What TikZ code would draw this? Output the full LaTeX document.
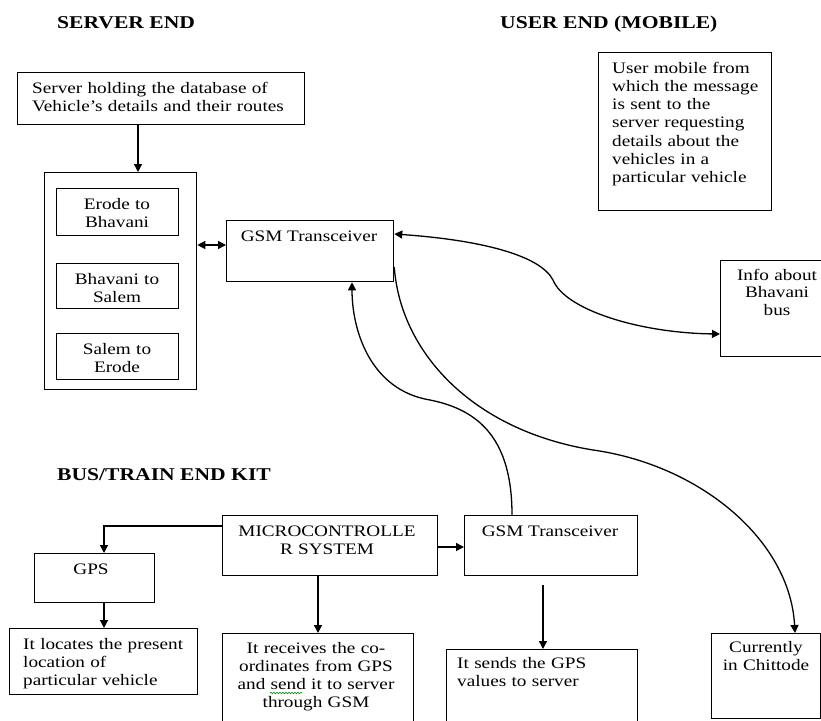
\documentclass[tikz,border=0pt]{standalone}
\usepackage{fontspec}
\setmainfont{Liberation Serif}[FakeStretch=1.2]
\usetikzlibrary{arrows.meta,decorations.pathmorphing}

\begin{document}
\begin{tikzpicture}[x=1pt,y=-1pt,
  box/.style={draw, line width=1.3pt, inner sep=0pt, anchor=north west},
  txt/.style={inner sep=0pt, font=\fontsize{16}{18}\selectfont},
  ttl/.style={inner sep=0pt, font=\fontsize{18}{22}\selectfont\bfseries, anchor=base west},
  arr/.style={line width=1.3pt, -{Triangle[length=8pt,width=8pt]}},
  darr/.style={line width=1.3pt, {Triangle[length=8pt,width=8pt]}-{Triangle[length=8pt,width=8pt]}},
  link/.style={line width=1.3pt}
]
\clip (0,0) rectangle (821,720);

% titles
\node[ttl] (tserverend) at (57,28) {SERVER END};
\node[ttl] (tuserend) at (500,28) {USER END (MOBILE)};
\node[ttl] (tbusend) at (57,480) {BUS/TRAIN END KIT};

% server end
\node[box, minimum width=287pt, minimum height=52pt] (server) at (17,72) {};
\node[txt, anchor=base west, text width=270pt, align=left] (tserver) at (32,93)
  {Server holding the database of\\Vehicle’s details and their routes};
\node[box, minimum width=152pt, minimum height=217pt] (cont) at (44,172) {};
\node[box, minimum width=122pt, minimum height=47pt] (r1) at (56,188) {};
\node[box, minimum width=122pt, minimum height=45pt] (r2) at (56,263) {};
\node[box, minimum width=122pt, minimum height=46pt] (r3) at (56,333) {};
\node[txt, anchor=base, text width=118pt, align=center] (tr1) at (117,209) {Erode to\\Bhavani};
\node[txt, anchor=base, text width=118pt, align=center] (tr2) at (117,284) {Bhavani to\\Salem};
\node[txt, anchor=base, text width=118pt, align=center] (tr3) at (117,354) {Salem to\\Erode};

\node[box, minimum width=167pt, minimum height=61pt] (gsm1) at (226,220) {};
\node[txt, anchor=base] (tgsm1) at (309,241) {GSM Transceiver};

% user end
\node[box, minimum width=173pt, minimum height=158pt] (user) at (598,52) {};
\node[txt, anchor=base west, text width=158pt, align=left,
      font=\fontsize{16}{18.3}\selectfont] (tuser) at (612,73)
  {User mobile from\\which the message\\is sent to the\\server requesting\\details about the\\vehicles in a\\particular vehicle};

\node[box, minimum width=115pt, minimum height=96pt] (info) at (720,260) {};
\node[txt, anchor=base, text width=100pt, align=center,
      font=\fontsize{16}{17.5}\selectfont] (tinfo) at (777,280) {Info about\\Bhavani\\bus};

% bus / train end
\node[box, minimum width=215pt, minimum height=60pt] (mc) at (222,515) {};
\node[txt, anchor=base, text width=205pt, align=center] (tmc) at (327,536) {MICROCONTROLLE\\R SYSTEM};
\node[box, minimum width=173pt, minimum height=60pt] (gsm2) at (464,515) {};
\node[txt, anchor=base] (tgsm2) at (550,536) {GSM Transceiver};
\node[box, minimum width=120pt, minimum height=49pt] (gps) at (34,553) {};
\node[txt, anchor=base] (tgps) at (91,574) {GPS};
\node[box, minimum width=188pt, minimum height=66pt] (loc) at (9,628) {};
\node[txt, anchor=base west, text width=180pt, align=left] (tloc) at (23,649)
  {It locates the present\\location of\\particular vehicle};
\node[box, minimum width=191pt, minimum height=100pt] (rec) at (222,633) {};
\node[txt, anchor=base, text width=185pt, align=center] (trec) at (316,653)
  {It receives the co-\\ordinates from GPS\\and send it to server\\through GSM};
\draw[green!55!black, line width=0.6pt, decorate,
      decoration={snake, amplitude=0.8pt, segment length=3pt}] (270,693) -- (302,693);
\node[box, minimum width=191pt, minimum height=100pt] (sends) at (446,649) {};
\node[txt, anchor=base west, text width=175pt, align=left] (tsends) at (457,668)
  {It sends the GPS\\values to server};
\node[box, minimum width=109pt, minimum height=85pt] (chit) at (711,633) {};
\node[txt, anchor=base, text width=105pt, align=center] (tchit) at (766,652)
  {Currently\\in Chittode};

% connectors
\draw[arr] ([xshift=121pt]server.south west) -- ([xshift=94pt]cont.north west);
\draw[darr] ([yshift=-73pt]cont.north east) -- ([yshift=-25pt]gsm1.north west);
\draw[darr] ([yshift=-14pt]gsm1.north east) .. controls (480,240) and (540,255) .. (553,280)
  .. controls (565,310) and (640,333) .. ([yshift=-74pt]info.north west);
\draw[arr] ([yshift=-47pt]gsm1.north east) .. controls (400,350) and (470,430) .. (593,450)
  .. controls (700,465) and (790,540) .. ([xshift=84pt]chit.north west);
\draw[arr] ([xshift=48pt]gsm2.north west) .. controls (512,440) and (480,410) .. (430,400)
  .. controls (370,390) and (352,330) .. ([xshift=126pt]gsm1.south west);
\draw[arr] ([yshift=-11pt]mc.north west) -| ([xshift=70pt]gps.north west);
\draw[arr] ([xshift=70pt]gps.south west) -- ([xshift=95pt]loc.north west);
\draw[arr] ([yshift=-32pt]mc.north east) -- ([yshift=-32pt]gsm2.north west);
\draw[arr] ([xshift=96pt]mc.south west) -- ([xshift=96pt]rec.north west);
\coordinate (gsm2out) at (543,585);
\draw[arr] (gsm2out) -- ([xshift=97pt]sends.north west);
\draw[link] (chit.north east) -- ([yshift=48pt]chit.north east);
\end{tikzpicture}
\end{document}
